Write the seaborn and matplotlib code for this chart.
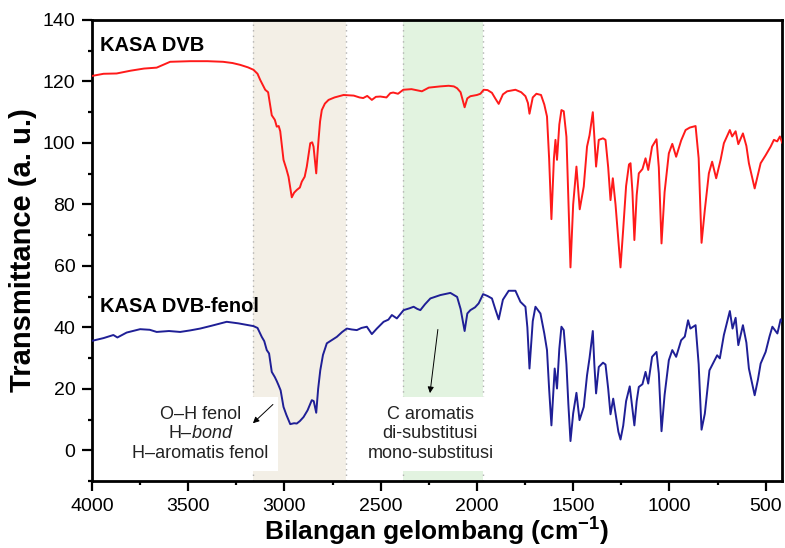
import matplotlib
matplotlib.use("Agg")
import matplotlib.pyplot as plt
import seaborn as sns
import pandas as pd
from matplotlib.ticker import MultipleLocator

# ---------------- data ----------------
dvb_points = [
    (4000, 121.8), (3940, 122.5), (3872, 122.6), (3800, 123.5), (3730, 124.2), (3664, 124.5),
    (3594, 126.4), (3540, 126.5), (3490, 126.6), (3400, 126.6), (3319, 126.4), (3270, 126.0),
    (3230, 125.4), (3190, 124.6), (3161, 123.8), (3140, 122.5), (3126, 120.5), (3110, 118.5),
    (3100, 117.3), (3085, 116.5), (3066, 109.0), (3050, 107.5), (3040, 105.3), (3030, 105.5),
    (3022, 103.8), (3005, 94.5), (2990, 91.5), (2979, 89.0), (2962, 82.3), (2950, 83.8),
    (2936, 84.7), (2920, 85.5), (2910, 87.4), (2895, 89.0), (2884, 92.3), (2872, 97.5),
    (2866, 99.9), (2856, 100.2), (2849, 98.8), (2840, 93.0), (2835, 90.1), (2829, 96.0),
    (2823, 101.0), (2815, 107.0), (2806, 110.7), (2790, 112.8), (2771, 114.0), (2740, 114.8),
    (2693, 115.6), (2640, 115.4), (2610, 114.8), (2591, 114.6), (2570, 115.3), (2546, 114.0),
    (2525, 115.0), (2502, 115.1), (2470, 114.8), (2450, 116.2), (2435, 116.4), (2410, 116.0),
    (2383, 117.3), (2340, 117.5), (2300, 117.0), (2286, 116.8), (2250, 118.0), (2190, 118.4),
    (2147, 118.6), (2120, 118.4), (2103, 117.8), (2085, 116.5), (2064, 111.6), (2050, 114.5),
    (2034, 115.2), (2000, 115.6), (1982, 116.0), (1965, 117.3), (1945, 117.2), (1922, 116.3),
    (1905, 114.5), (1887, 112.7), (1865, 115.8), (1843, 116.8), (1800, 117.3), (1770, 116.5),
    (1748, 115.2), (1735, 113.0), (1727, 109.5), (1710, 114.8), (1691, 116.0), (1667, 115.6),
    (1650, 112.5), (1636, 108.6), (1625, 95.0), (1613, 75.2), (1600, 95.0), (1592, 101.0),
    (1584, 94.5), (1572, 106.0), (1561, 110.7), (1549, 110.3), (1535, 102.0), (1525, 82.0),
    (1514, 59.5), (1500, 80.0), (1483, 92.3), (1466, 78.4), (1445, 85.8), (1428, 98.8),
    (1415, 102.5), (1398, 110.0), (1390, 102.0), (1381, 92.3), (1367, 101.0), (1345, 101.5),
    (1332, 101.0), (1318, 92.0), (1306, 81.4), (1294, 88.5), (1280, 80.0), (1265, 68.0),
    (1254, 59.5), (1240, 72.0), (1225, 86.0), (1210, 93.0), (1202, 93.4), (1192, 84.0),
    (1182, 68.4), (1170, 83.0), (1159, 90.1), (1140, 91.5), (1124, 95.0), (1110, 91.2),
    (1090, 98.8), (1067, 101.2), (1055, 92.0), (1041, 67.3), (1025, 84.0), (1003, 96.6),
    (985, 99.7), (965, 95.5), (939, 100.8), (916, 104.2), (894, 105.0), (864, 105.5),
    (848, 95.0), (833, 67.5), (816, 78.2), (795, 90.1), (778, 93.9), (757, 88.5),
    (734, 94.5), (717, 99.9), (686, 104.2), (674, 102.1), (656, 103.8), (642, 99.6),
    (618, 103.1), (600, 99.0), (587, 93.4), (557, 85.2), (526, 93.4), (500, 96.0),
    (474, 98.8), (457, 101.0), (440, 100.5), (426, 102.1), (413, 99.9),
]

fenol_points = [
    (4000, 35.6), (3940, 36.5), (3889, 37.5), (3868, 36.7), (3820, 38.3), (3750, 39.4),
    (3700, 39.2), (3664, 38.5), (3600, 38.8), (3542, 38.5), (3490, 39.0), (3438, 39.6),
    (3380, 40.5), (3300, 41.8), (3240, 41.3), (3161, 40.4), (3140, 39.8), (3118, 36.9),
    (3105, 35.5), (3092, 32.6), (3080, 31.5), (3066, 25.5), (3050, 23.8), (3040, 22.5),
    (3031, 21.2), (3020, 19.5), (3005, 14.1), (2990, 11.5), (2970, 8.5), (2950, 8.8),
    (2936, 8.7), (2920, 9.5), (2901, 10.8), (2880, 13.0), (2858, 16.3), (2848, 16.0),
    (2835, 12.2), (2825, 20.0), (2814, 26.0), (2800, 31.0), (2780, 34.8), (2728, 36.9),
    (2700, 38.5), (2676, 39.6), (2650, 39.3), (2624, 39.1), (2600, 39.8), (2572, 40.2),
    (2546, 37.8), (2520, 39.6), (2485, 41.8), (2460, 42.5), (2442, 44.0), (2416, 42.9),
    (2381, 45.6), (2350, 46.2), (2329, 46.7), (2310, 46.0), (2294, 45.6), (2270, 47.5),
    (2242, 49.4), (2190, 50.5), (2138, 51.2), (2103, 49.9), (2085, 46.0), (2064, 38.8),
    (2050, 44.5), (2034, 45.6), (2010, 46.5), (1991, 47.8), (1968, 50.8), (1945, 50.2),
    (1922, 49.4), (1905, 46.0), (1887, 42.6), (1865, 49.0), (1835, 51.9), (1800, 51.9),
    (1774, 48.3), (1748, 46.7), (1738, 40.0), (1727, 26.6), (1710, 42.0), (1696, 46.7),
    (1670, 44.5), (1650, 38.0), (1636, 32.6), (1625, 20.0), (1613, 8.1), (1600, 22.0),
    (1596, 26.6), (1584, 20.1), (1572, 33.0), (1561, 40.2), (1549, 39.1), (1535, 28.0),
    (1525, 15.0), (1514, 3.0), (1500, 12.0), (1483, 18.7), (1467, 9.8), (1445, 14.1),
    (1428, 24.4), (1415, 30.0), (1398, 38.8), (1390, 28.0), (1381, 18.5), (1367, 27.1),
    (1345, 28.5), (1332, 27.9), (1318, 20.0), (1306, 11.7), (1292, 16.8), (1280, 12.0),
    (1265, 6.0), (1254, 3.5), (1240, 8.0), (1225, 16.0), (1206, 20.8), (1195, 15.0),
    (1182, 8.1), (1170, 16.0), (1159, 20.6), (1140, 21.5), (1124, 25.5), (1110, 21.7),
    (1090, 30.4), (1067, 32.0), (1055, 25.0), (1041, 6.2), (1025, 18.0), (1003, 29.3),
    (985, 32.6), (965, 30.4), (939, 35.8), (920, 37.0), (903, 42.3), (891, 39.6),
    (864, 40.7), (848, 28.0), (833, 6.7), (816, 11.9), (792, 26.0), (769, 28.8),
    (752, 30.9), (738, 29.9), (717, 37.5), (686, 45.3), (672, 39.6), (656, 43.1),
    (642, 34.2), (618, 40.7), (600, 35.0), (587, 26.6), (557, 17.9), (540, 23.0),
    (526, 28.2), (500, 32.0), (480, 37.0), (465, 40.2), (439, 38.0), (422, 42.6),
    (413, 41.8),
]

series_names = ["KASA DVB", "KASA DVB-fenol"]
series_colors = ["#ff1a1a", "#1f1f96"]
bands = [(3161, 2681), (2385, 1970)]
band_colors = ["#f3efe6", "#e2f3e0"]
notes = ["O\u2013H fenol\nH\u2013$\\it{bond}$\nH\u2013aromatis fenol",
         "C aromatis\ndi-substitusi\nmono-substitusi"]

# ---------------- build table ----------------
rows = []
for name, pts in zip(series_names, [dvb_points, fenol_points]):
    for wn, t in pts:
        rows.append({"wn": wn, "T": t, "sample": name})
df = pd.DataFrame(rows)

# ---------------- style ----------------
sns.set_style("ticks")
plt.rcParams["font.family"] = ["Liberation Sans", "DejaVu Sans"]
plt.rcParams["mathtext.fontset"] = "custom"
plt.rcParams["mathtext.rm"] = "Liberation Sans"
plt.rcParams["mathtext.it"] = "Liberation Sans:italic"
plt.rcParams["mathtext.bf"] = "Liberation Sans:bold"
plt.rcParams["text.color"] = "black"
plt.rcParams["axes.labelcolor"] = "black"
plt.rcParams["xtick.color"] = "black"
plt.rcParams["ytick.color"] = "black"

fig = plt.figure(figsize=(7.85, 5.48), dpi=100)
ax = fig.add_axes([92 / 785, 1 - 481 / 548, 690 / 785, 461 / 548])

# shaded bands with dotted borders
for (a, b), c in zip(bands, band_colors):
    ax.axvspan(a, b, color=c, zorder=0, lw=0)
    for v in (a, b):
        ax.axvline(v, color="#b0b0b0", ls=(0, (1, 3)), lw=1.0, zorder=0.5)

sns.lineplot(data=df, x="wn", y="T", hue="sample", palette=dict(zip(series_names, series_colors)),
             estimator=None, sort=False, legend=False, lw=1.4, ax=ax, zorder=3)

ax.set_xlim(4000, 415)
ax.set_ylim(-10, 140)
ax.xaxis.set_major_locator(MultipleLocator(500))
ax.xaxis.set_minor_locator(MultipleLocator(250))
ax.yaxis.set_major_locator(MultipleLocator(20))
ax.yaxis.set_minor_locator(MultipleLocator(10))
ax.set_yticks([0, 20, 40, 60, 80, 100, 120, 140])

for s in ax.spines.values():
    s.set_visible(True)
    s.set_linewidth(2.0)
    s.set_color("black")
ax.tick_params(which="major", length=7, width=1.6, labelsize=14, color="black", pad=5)
ax.tick_params(which="minor", length=3, width=1.6, color="black")
ax.tick_params(axis="x", which="both", top=False)
ax.tick_params(axis="y", which="both", right=False)

ax.set_xlabel("Bilangan gelombang (cm$^{\\mathbf{-1}}$)", fontsize=19, fontweight="bold")
ax.xaxis.set_label_coords(0.5, -0.075)
ax.xaxis.label.set_va("top")
ax.set_ylabel("Transmittance (a. u.)", fontsize=21, fontweight="bold", labelpad=4)

# series labels
ax.text(3958, 131.8, series_names[0], fontsize=14.5, fontweight="bold", ha="left", va="center", zorder=4)
ax.text(3958, 46.8, series_names[1], fontsize=14.5, fontweight="bold", ha="left", va="center", zorder=4)

# annotation boxes
box = dict(boxstyle="square,pad=0.5", fc="white", ec="none")
ax.text(3436, 5.3, notes[0], fontsize=13, ha="center", va="center", linespacing=1.2,
        color="#222222", bbox=box, zorder=2)
ax.text(2242, 5.3, notes[1], fontsize=13, ha="center", va="center", linespacing=1.2,
        color="#222222", bbox=box, zorder=2)

arrow = dict(arrowstyle="-|>", color="black", lw=0.7, mutation_scale=9, shrinkA=0, shrinkB=0)
ax.annotate("", xy=(3164, 8.8), xytext=(3060, 14.9), arrowprops=arrow, zorder=4)
ax.annotate("", xy=(2244, 18.6), xytext=(2203, 39.3), arrowprops=arrow, zorder=4)

fig.savefig("out.png", dpi=100)
